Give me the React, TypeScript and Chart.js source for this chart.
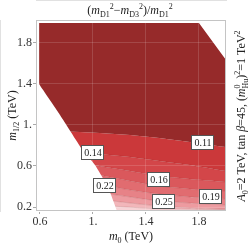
import React, { useEffect, useRef } from 'react';
import { Chart, registerables } from 'chart.js';
Chart.register(...registerables);

// ---- data (TeV) ----
const xTicks = [0.6, 1.0, 1.4, 1.8];
const yTicks = [0.2, 0.6, 1.0, 1.4, 1.8];

const xGrid = [0.592, 0.9, 1.05, 1.28, 1.5, 1.73, 1.8, 2.0];
const topEdge = [1.995, 1.995, 1.995, 1.995, 1.995, 1.995, 1.995, 1.64];
const c1 = [0.932, 0.932, 0.922, 0.902, 0.873, 0.834, 0.82, 0.785];
const c2 = [0.737, 0.737, 0.717, 0.688, 0.649, 0.61, 0.595, 0.551];
const c3 = [0.639, 0.639, 0.6, 0.551, 0.502, 0.473, 0.465, 0.444];
const c4 = [0.561, 0.561, 0.512, 0.454, 0.405, 0.376, 0.368, 0.356];
const c5 = [0.483, 0.483, 0.424, 0.366, 0.327, 0.298, 0.292, 0.278];
const c6 = [0.405, 0.405, 0.346, 0.298, 0.259, 0.239, 0.233, 0.22];
const c7 = [0.327, 0.327, 0.278, 0.239, 0.21, 0.19, 0.186, 0.18];
const c8 = [0.249, 0.249, 0.22, 0.198, 0.184, 0.178, 0.176, 0.174];
const bottomEdge = [0.168, 0.168, 0.168, 0.168, 0.168, 0.168, 0.168, 0.168];

const leftBoundX = [0.592, 0.751, 0.917, 1.015, 1.083, 1.128, 1.181];
const leftBoundY = [1.4, 1.098, 0.766, 0.61, 0.463, 0.346, 0.161];

const labelText = ['0.11', '0.14', '0.16', '0.22', '0.25', '0.19'];
const labelX = [1.823, 0.996, 1.494, 1.083, 1.525, 1.887];
const labelY = [0.834, 0.737, 0.478, 0.415, 0.258, 0.307];

const bandColors = [
  'rgb(150,42,42)',
  'rgb(203,56,58)',
  'rgb(211,70,73)',
  'rgb(218,88,92)',
  'rgb(225,108,112)',
  'rgb(231,130,135)',
  'rgb(237,155,160)',
  'rgb(242,182,186)',
  'rgb(247,211,214)',
];

const FONT = '"Liberation Serif", "Times New Roman", serif';

type Seg = { t?: string; i?: boolean; s?: 'n' | 'sub' | 'sup'; stack?: [string, string] };

function segFont(size: number, italic?: boolean) {
  return `${italic ? 'italic ' : ''}${size}px ${FONT}`;
}

function drawRich(ctx: CanvasRenderingContext2D, segs: Seg[], cx: number, base: number, size: number) {
  const small = Math.round(size * 0.7);
  const widths = segs.map((g) => {
    if (g.stack) {
      ctx.font = segFont(small);
      return Math.max(ctx.measureText(g.stack[0]).width, ctx.measureText(g.stack[1]).width);
    }
    ctx.font = segFont(g.s && g.s !== 'n' ? small : size, g.i);
    return ctx.measureText(g.t || '').width;
  });
  const total = widths.reduce((a, b) => a + b, 0);
  let x = cx - total / 2;
  ctx.textAlign = 'left';
  ctx.textBaseline = 'alphabetic';
  segs.forEach((g, k) => {
    if (g.stack) {
      ctx.font = segFont(small);
      ctx.fillText(g.stack[0], x, base - size * 0.45);
      ctx.fillText(g.stack[1], x, base + size * 0.28);
    } else {
      const sz = g.s && g.s !== 'n' ? small : size;
      ctx.font = segFont(sz, g.i);
      const dy = g.s === 'sub' ? size * 0.28 : g.s === 'sup' ? -size * 0.42 : 0;
      ctx.fillText(g.t || '', x, base + dy);
    }
    x += widths[k];
  });
}

const titleSegs: Seg[] = [
  { t: '(' }, { t: 'm', i: true }, { t: 'D1', s: 'sub' }, { t: '2', s: 'sup' },
  { t: '\u2212' }, { t: 'm', i: true }, { t: 'D3', s: 'sub' }, { t: '2', s: 'sup' },
  { t: ')/' }, { t: 'm', i: true }, { t: 'D1', s: 'sub' }, { t: '2', s: 'sup' },
];
const xTitleSegs: Seg[] = [{ t: 'm', i: true }, { t: '0', s: 'sub' }, { t: ' (TeV)' }];
const yTitleSegs: Seg[] = [{ t: 'm', i: true }, { t: '1/2', s: 'sub' }, { t: ' (TeV)' }];
const sideSegs: Seg[] = [
  { t: 'A', i: true }, { t: '0', s: 'sub' }, { t: '=2 TeV, tan ' }, { t: '\u03B2', i: true },
  { t: '=45, (' }, { t: 'm', i: true }, { stack: ['0', 'Hu'] }, { t: ')' }, { t: '2', s: 'sup' },
  { t: '=1 TeV' }, { t: '2', s: 'sup' },
];

const overlay = {
  id: 'overlay',
  afterDraw(chart: any) {
    const ctx: CanvasRenderingContext2D = chart.ctx;
    const a = chart.chartArea;
    const xs = chart.scales.x;
    const ys = chart.scales.y;
    ctx.save();
    // frame
    ctx.strokeStyle = '#c4c4c4';
    ctx.lineWidth = 1;
    ctx.strokeRect(a.left + 0.5, a.top + 0.5, a.right - a.left - 1, a.bottom - a.top - 1);
    // contour labels
    ctx.font = `10px ${FONT}`;
    ctx.textAlign = 'center';
    ctx.textBaseline = 'middle';
    labelText.forEach((t, k) => {
      const px = xs.getPixelForValue(labelX[k]);
      const py = ys.getPixelForValue(labelY[k]);
      const w = 22, h = 14;
      ctx.fillStyle = '#fff';
      ctx.fillRect(Math.round(px - w / 2) + 0.5, Math.round(py - h / 2) + 0.5, w, h);
      ctx.strokeStyle = '#555';
      ctx.strokeRect(Math.round(px - w / 2) + 0.5, Math.round(py - h / 2) + 0.5, w, h);
      ctx.fillStyle = '#222';
      ctx.fillText(t, Math.round(px) + 1, Math.round(py) + 1.5);
    });
    ctx.fillStyle = '#222';
    // title
    drawRich(ctx, titleSegs, 130, 14, 12);
    // x title
    drawRich(ctx, xTitleSegs, (a.left + a.right) / 2, 240, 12);
    // y title
    ctx.save();
    ctx.translate(16, (a.top + a.bottom) / 2);
    ctx.rotate(-Math.PI / 2);
    drawRich(ctx, yTitleSegs, 0, 0, 12);
    ctx.restore();
    // side text
    ctx.save();
    ctx.translate(245, 116);
    ctx.rotate(-Math.PI / 2);
    drawRich(ctx, sideSegs, 0, 0, 12);
    ctx.restore();
    ctx.restore();
  },
};

const mk = (ys: number[]) => xGrid.map((x, i) => ({ x, y: ys[i] }));

export default function App() {
  const ref = useRef<HTMLCanvasElement>(null);
  useEffect(() => {
    if (!ref.current) return;
    const contours = [c1, c2, c3, c4, c5, c6, c7, c8];
    const datasets: any[] = [
      {
        data: leftBoundX.map((x, i) => ({ x, y: leftBoundY[i] })),
        fill: 'start',
        backgroundColor: '#ffffff',
        borderWidth: 0,
        pointRadius: 0,
        tension: 0.2,
      },
      { data: mk(topEdge), fill: false, borderWidth: 0, pointRadius: 0, tension: 0 },
      ...contours.map((c, i) => ({
        data: mk(c),
        fill: '-1',
        backgroundColor: bandColors[i],
        borderColor: i === 0 ? 'rgba(0,0,0,0)' : 'rgba(110,20,20,0.22)',
        borderWidth: 0.7,
        pointRadius: 0,
        tension: 0.3,
      })),
      {
        data: mk(bottomEdge),
        fill: '-1',
        backgroundColor: bandColors[8],
        borderWidth: 0,
        pointRadius: 0,
        tension: 0,
      },
    ];
    const fmt = (v: number) => {
      const r = Math.round(v * 10) / 10;
      return Number.isInteger(r) ? `${r}.` : r.toFixed(1);
    };
    const chart = new Chart(ref.current, {
      type: 'line',
      data: { datasets },
      options: {
        animation: false,
        responsive: false,
        devicePixelRatio: 1,
        layout: { padding: { left: 0, top: 20, right: 23, bottom: 0 } },
        plugins: { legend: { display: false }, tooltip: { enabled: false }, filler: { propagate: false } as any },
        scales: {
          x: {
            type: 'linear',
            min: 0.57,
            max: 2.004,
            afterBuildTicks: (s: any) => { s.ticks = xTicks.map((value) => ({ value })); },
            afterFit: (s: any) => { s.height = 34; },
            ticks: { callback: (v: any) => fmt(Number(v)), color: '#333', font: { family: FONT, size: 12 }, padding: 1, maxRotation: 0 },
            grid: { color: 'rgba(255,255,255,0.14)', tickColor: '#aaa', tickLength: 3, z: 1 } as any,
            border: { color: '#c4c4c4' },
          },
          y: {
            type: 'linear',
            min: 0.161,
            max: 2.024,
            afterBuildTicks: (s: any) => { s.ticks = yTicks.map((value) => ({ value })); },
            afterFit: (s: any) => { s.width = 36; },
            ticks: { callback: (v: any) => fmt(Number(v)), color: '#333', font: { family: FONT, size: 12 }, padding: 1 },
            grid: { color: 'rgba(255,255,255,0.14)', tickColor: '#aaa', tickLength: 3, z: 1 } as any,
            border: { color: '#c4c4c4' },
          },
        },
      },
      plugins: [overlay],
    });
    return () => chart.destroy();
  }, []);
  return (
    <div style={{ position: 'fixed', left: 0, top: 0, width: 249, height: 245, background: '#fff' }}>
      <canvas ref={ref} width={249} height={245} style={{ width: 249, height: 245 }} />
    </div>
  );
}
